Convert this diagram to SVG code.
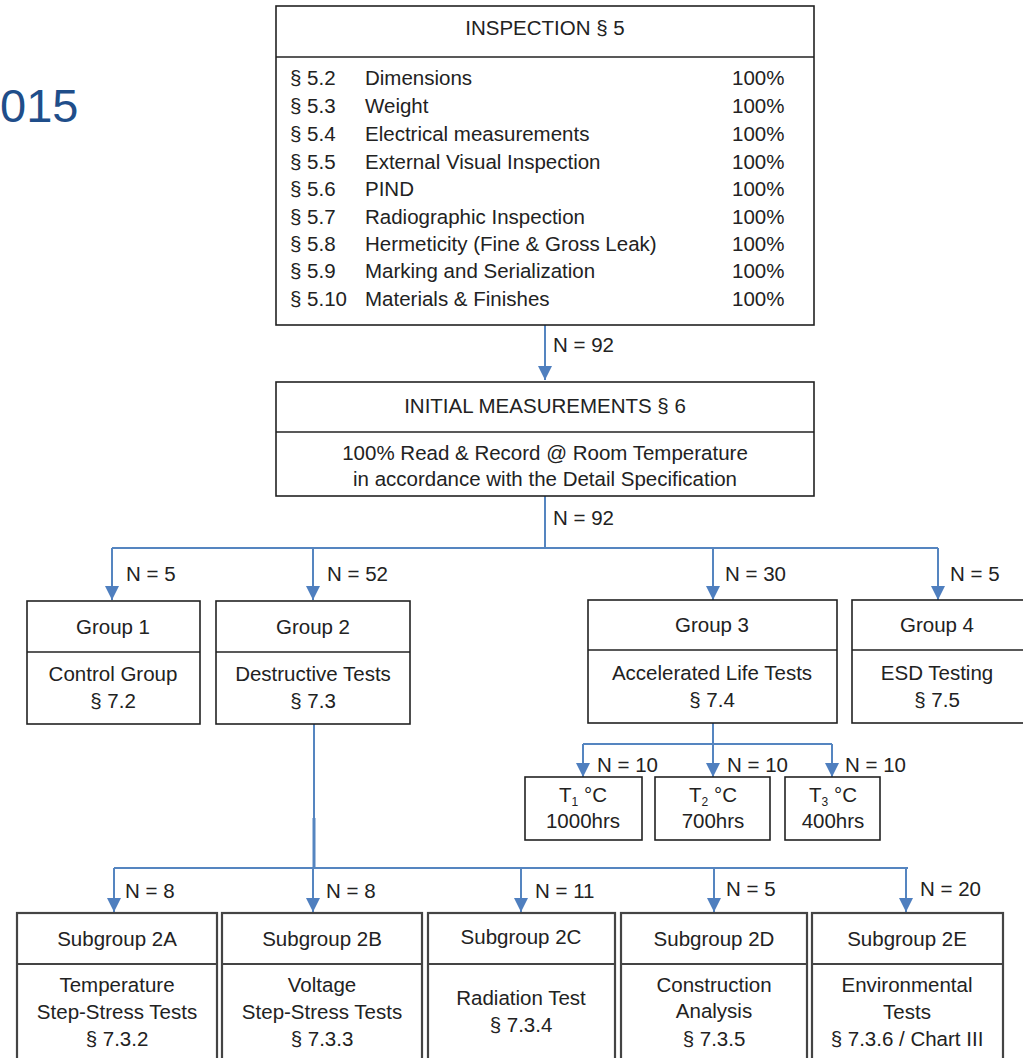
<svg xmlns="http://www.w3.org/2000/svg" width="1023" height="1058" viewBox="0 0 1023 1058">
<defs>
<style>
text{font-family:"Liberation Sans",Arial,sans-serif;font-size:20.5px;fill:#222}
.c{text-anchor:middle}
.box{fill:#fff;stroke:#222;stroke-width:1.6}
.div{stroke:#222;stroke-width:1.4}
.sub{fill:#fff;stroke:#444;stroke-width:2.2}
.con{fill:none;stroke:#5585c0;stroke-width:2}
</style>
<marker id="ahb" viewBox="0 0 10 10" refX="10" refY="5" markerWidth="22" markerHeight="14" orient="auto" markerUnits="userSpaceOnUse">
<path d="M0,0 L10,5 L0,10 z" fill="#4f7fbf"/>
</marker>
</defs>
<text x="0" y="122" style="font-size:47px;fill:#1f4e8a">015</text>

<g id="connectors">
<path class="con" d="M545,325 V380" marker-end="url(#ahb)"/>
<path class="con" d="M545,496 V548 M112,548 H938"/>
<path class="con" d="M112,548 V600" marker-end="url(#ahb)"/>
<path class="con" d="M313,548 V600" marker-end="url(#ahb)"/>
<path class="con" d="M713,548 V600" marker-end="url(#ahb)"/>
<path class="con" d="M938,548 V600" marker-end="url(#ahb)"/>
<path class="con" d="M713,723 V744 M583,744 H832"/>
<path class="con" d="M583,744 V777" marker-end="url(#ahb)"/>
<path class="con" d="M713,744 V777" marker-end="url(#ahb)"/>
<path class="con" d="M832,744 V777" marker-end="url(#ahb)"/>
<path class="con" d="M314,724 V818"/>
<path class="con" d="M314,818 V868" style="stroke-width:3"/>
<path class="con" d="M114,868 H908"/>
<path class="con" d="M114,868 V912" marker-end="url(#ahb)"/>
<path class="con" d="M313,868 V912" marker-end="url(#ahb)"/>
<path class="con" d="M521,868 V912" marker-end="url(#ahb)"/>
<path class="con" d="M714,868 V912" marker-end="url(#ahb)"/>
<path class="con" d="M906,868 V912" marker-end="url(#ahb)"/>
<text x="553" y="352">N = 92</text>
<text x="553" y="525">N = 92</text>
<text x="126" y="581">N = 5</text>
<text x="327" y="581">N = 52</text>
<text x="725" y="581">N = 30</text>
<text x="950" y="581">N = 5</text>
<text x="597" y="772">N = 10</text>
<text x="727" y="772">N = 10</text>
<text x="845" y="772">N = 10</text>
<text x="125" y="898">N = 8</text>
<text x="326" y="898">N = 8</text>
<text x="535" y="898">N = 11</text>
<text x="726" y="896">N = 5</text>
<text x="920" y="896">N = 20</text>
</g>

<g id="inspection">
<rect class="box" x="276" y="6" width="538" height="319"/>
<line class="div" x1="276" y1="57" x2="814" y2="57"/>
<text class="c" x="545" y="35">INSPECTION § 5</text>
<g>
<text x="290" y="85">§ 5.2</text><text x="365" y="85">Dimensions</text><text x="732" y="85">100%</text>
<text x="290" y="113">§ 5.3</text><text x="365" y="113">Weight</text><text x="732" y="113">100%</text>
<text x="290" y="141">§ 5.4</text><text x="365" y="141">Electrical measurements</text><text x="732" y="141">100%</text>
<text x="290" y="169">§ 5.5</text><text x="365" y="169">External Visual Inspection</text><text x="732" y="169">100%</text>
<text x="290" y="196">§ 5.6</text><text x="365" y="196">PIND</text><text x="732" y="196">100%</text>
<text x="290" y="224">§ 5.7</text><text x="365" y="224">Radiographic Inspection</text><text x="732" y="224">100%</text>
<text x="290" y="251">§ 5.8</text><text x="365" y="251">Hermeticity (Fine &amp; Gross Leak)</text><text x="732" y="251">100%</text>
<text x="290" y="278">§ 5.9</text><text x="365" y="278">Marking and Serialization</text><text x="732" y="278">100%</text>
<text x="290" y="306">§ 5.10</text><text x="365" y="306">Materials &amp; Finishes</text><text x="732" y="306">100%</text>
</g>
</g>

<g id="initial">
<rect class="box" x="276" y="382" width="538" height="114"/>
<line class="div" x1="276" y1="432" x2="814" y2="432"/>
<text class="c" x="545" y="413">INITIAL MEASUREMENTS § 6</text>
<text class="c" x="545" y="460">100% Read &amp; Record @ Room Temperature</text>
<text class="c" x="545" y="486">in accordance with the Detail Specification</text>
</g>

<g id="group1">
<rect class="box" x="27" y="601" width="173" height="123"/>
<line class="div" x1="27" y1="652" x2="200" y2="652"/>
<text class="c" x="113" y="634">Group 1</text>
<text class="c" x="113" y="681">Control Group</text>
<text class="c" x="113" y="708">§ 7.2</text>
</g>
<g id="group2">
<rect class="box" x="216" y="601" width="194" height="123"/>
<line class="div" x1="216" y1="652" x2="410" y2="652"/>
<text class="c" x="313" y="634">Group 2</text>
<text class="c" x="313" y="681">Destructive Tests</text>
<text class="c" x="313" y="708">§ 7.3</text>
</g>
<g id="group3">
<rect class="box" x="588" y="600" width="249" height="123"/>
<line class="div" x1="588" y1="650" x2="837" y2="650"/>
<text class="c" x="712" y="632">Group 3</text>
<text class="c" x="712" y="680">Accelerated Life Tests</text>
<text class="c" x="712" y="707">§ 7.4</text>
</g>
<g id="group4">
<rect class="box" x="852" y="600" width="180" height="123"/>
<line class="div" x1="852" y1="650" x2="1023" y2="650"/>
<text class="c" x="937" y="632">Group 4</text>
<text class="c" x="937" y="680">ESD Testing</text>
<text class="c" x="937" y="707">§ 7.5</text>
</g>

<g id="t1">
<rect class="box" x="525" y="777" width="117" height="63"/>
<text class="c" x="583" y="802">T<tspan style="font-size:12px" dy="4">1</tspan><tspan dy="-4"> °C</tspan></text>
<text class="c" x="583" y="828">1000hrs</text>
</g>
<g id="t2">
<rect class="box" x="655" y="777" width="115" height="63"/>
<text class="c" x="713" y="802">T<tspan style="font-size:12px" dy="4">2</tspan><tspan dy="-4"> °C</tspan></text>
<text class="c" x="713" y="828">700hrs</text>
</g>
<g id="t3">
<rect class="box" x="785" y="777" width="95" height="63"/>
<text class="c" x="833" y="802">T<tspan style="font-size:12px" dy="4">3</tspan><tspan dy="-4"> °C</tspan></text>
<text class="c" x="833" y="828">400hrs</text>
</g>

<g id="sub2a">
<rect class="sub" x="17" y="913" width="200" height="150"/>
<line class="sub" x1="17" y1="964" x2="217" y2="964"/>
<text class="c" x="117" y="946">Subgroup 2A</text>
<text class="c" x="117" y="992">Temperature</text>
<text class="c" x="117" y="1019">Step-Stress Tests</text>
<text class="c" x="117" y="1046">§ 7.3.2</text>
</g>
<g id="sub2b">
<rect class="sub" x="222" y="913" width="200" height="150"/>
<line class="sub" x1="222" y1="964" x2="422" y2="964"/>
<text class="c" x="322" y="946">Subgroup 2B</text>
<text class="c" x="322" y="992">Voltage</text>
<text class="c" x="322" y="1019">Step-Stress Tests</text>
<text class="c" x="322" y="1046">§ 7.3.3</text>
</g>
<g id="sub2c">
<rect class="sub" x="428" y="913" width="187" height="150"/>
<line class="sub" x1="428" y1="964" x2="615" y2="964"/>
<text class="c" x="521" y="944">Subgroup 2C</text>
<text class="c" x="521" y="1005">Radiation Test</text>
<text class="c" x="521" y="1032">§ 7.3.4</text>
</g>
<g id="sub2d">
<rect class="sub" x="621" y="913" width="186" height="150"/>
<line class="sub" x1="621" y1="964" x2="807" y2="964"/>
<text class="c" x="714" y="946">Subgroup 2D</text>
<text class="c" x="714" y="992">Construction</text>
<text class="c" x="714" y="1018">Analysis</text>
<text class="c" x="714" y="1046">§ 7.3.5</text>
</g>
<g id="sub2e">
<rect class="sub" x="812" y="913" width="191" height="150"/>
<line class="sub" x1="812" y1="964" x2="1003" y2="964"/>
<text class="c" x="907" y="946">Subgroup 2E</text>
<text class="c" x="907" y="992">Environmental</text>
<text class="c" x="907" y="1019">Tests</text>
<text class="c" x="907" y="1046">§ 7.3.6 / Chart III</text>
</g>
</svg>
